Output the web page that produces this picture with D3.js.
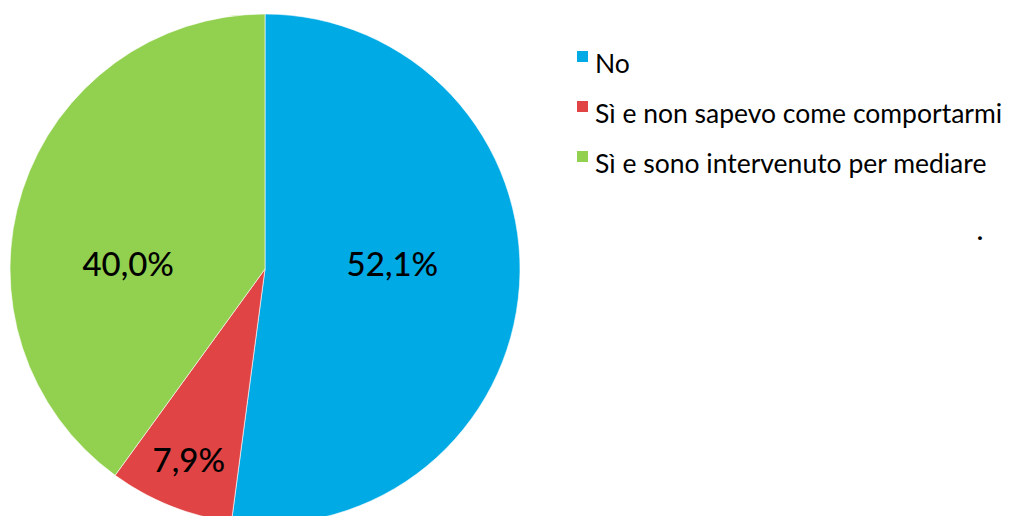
<!DOCTYPE html>
<html>
<head>
<meta charset="utf-8">
<script src="https://cdn.jsdelivr.net/npm/d3@7"></script>
<style>
  html, body { margin: 0; padding: 0; background: #ffffff; }
  svg { display: block; }
  text { font-family: "Gill Sans", "Gill Sans MT", Lato, "Open Sans", sans-serif; fill: #000; }
</style>
</head>
<body>
<svg id="chart" width="1022" height="516"></svg>
<script>
// Risposte e percentuali
const categories = ["No", "Sì e non sapevo come comportarmi", "Sì e sono intervenuto per mediare"];
const values = [52.1, 7.9, 40.0];
const labels = ["52,1%", "7,9%", "40,0%"];
const colors = ["#00AAE5", "#E14444", "#92D150"];

const svg = d3.select("#chart");

const cx = 265, cy = 269, radius = 255;

const pie = d3.pie().sort(null).value(d => d);
const arcs = pie(values);
const arc = d3.arc().innerRadius(0).outerRadius(radius);

const g = svg.append("g").attr("transform", `translate(${cx},${cy})`);

g.selectAll("path.slice")
  .data(arcs)
  .enter().append("path")
  .attr("class", "slice")
  .attr("d", arc)
  .attr("fill", (d, i) => colors[i])
  .attr("stroke", "#ffffff")
  .attr("stroke-width", 0.6);

// label placement: fraction of the radius and angular shift from the slice middle
const labelPlace = [
  { r: 0.50, shift: -0.105 },
  { r: 0.805, shift: 0.0 },
  { r: 0.537, shift: -0.277 }
];

g.selectAll("text.val")
  .data(arcs)
  .enter().append("text")
  .attr("class", "val")
  .attr("text-anchor", "middle")
  .attr("dy", "0.36em")
  .attr("font-size", 33)
  .attr("font-weight", 500)
  .attr("transform", (d, i) => {
    const p = labelPlace[i];
    const a = (d.startAngle + d.endAngle) / 2 + p.shift;
    const rr = radius * p.r;
    return `translate(${rr * Math.sin(a)},${-rr * Math.cos(a)})`;
  })
  .text((d, i) => labels[i]);

// legend
const legend = svg.append("g").attr("transform", "translate(577,51)");
const rowH = 50;
const items = legend.selectAll("g.item")
  .data(categories)
  .enter().append("g")
  .attr("class", "item")
  .attr("transform", (d, i) => `translate(0,${i * rowH})`);

items.append("rect")
  .attr("width", 11).attr("height", 11)
  .attr("fill", (d, i) => colors[i]);

items.append("text")
  .attr("x", 18)
  .attr("y", 22)
  .attr("font-size", 26.5)
  .text(d => d);

svg.append("text")
  .attr("x", 977)
  .attr("y", 240)
  .attr("font-size", 25)
  .attr("font-weight", 700)
  .text(".");
</script>
</body>
</html>
